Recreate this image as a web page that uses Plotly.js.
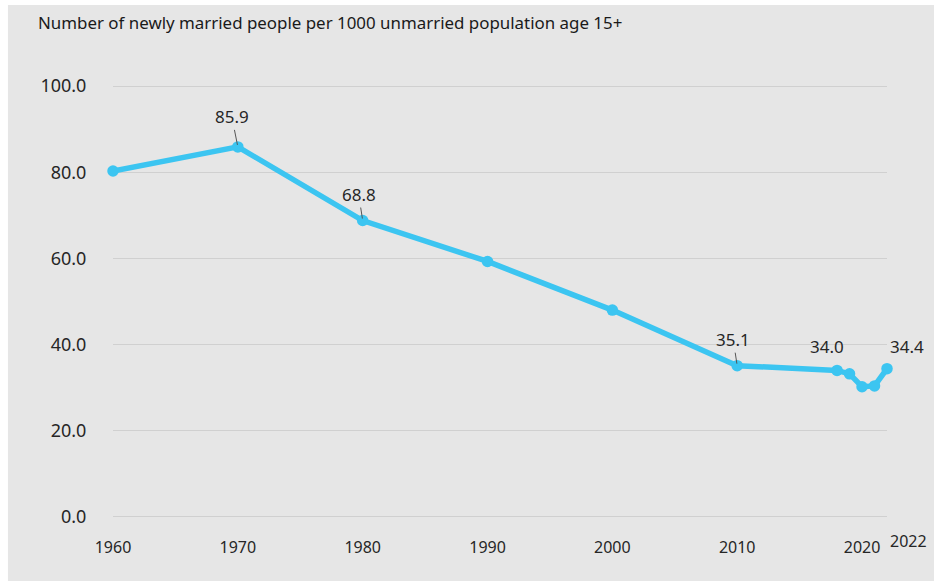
<!DOCTYPE html>
<html><head><meta charset="utf-8">
<script src="https://cdn.plot.ly/plotly-3.0.1.min.js"></script>
<style>html,body{margin:0;padding:0;background:#fff;}#chart{width:934px;height:581px;}</style>
</head><body><div id="chart"></div>
<script>
const years = [1960, 1970, 1980, 1990, 2000, 2010, 2018, 2019, 2020, 2021, 2022];
const rates = [80.3, 85.9, 68.8, 59.3, 48.0, 35.1, 34.0, 33.2, 30.2, 30.4, 34.4];
const tickYears = [1960, 1970, 1980, 1990, 2000, 2010, 2020];
const tickLabels = ['1960', '1970', '1980', '1990', '2000', '2010', '2020'];
const extraTickYear = 2022;
const extraTickLabel = '2022';
const labelled = [
  {year: 1970, value: 85.9, text: '85.9', ax: -6, ay: -30, arrow: true},
  {year: 1980, value: 68.8, text: '68.8', ax: -4, ay: -26, arrow: true},
  {year: 2010, value: 35.1, text: '35.1', ax: -4, ay: -26, arrow: true},
  {year: 2018, value: 34.0, text: '34.0', ax: -10, ay: -24, arrow: false},
  {year: 2022, value: 34.4, text: '34.4', ax: 20, ay: -22, arrow: false}
];
const titleText = 'Number of newly married people per 1000 unmarried population age 15+';

const trace = {
  x: years, y: rates, type: 'scatter', mode: 'lines+markers',
  line: {color: '#3CC5F1', width: 5.5},
  marker: {color: '#3CC5F1', size: 11.5},
  cliponaxis: false, hoverinfo: 'skip'
};

const annotations = labelled.map(d => ({
  x: d.year, y: d.value, xref: 'x', yref: 'y', text: d.text,
  showarrow: true, arrowhead: 0, arrowwidth: 1,
  arrowcolor: d.arrow ? '#555' : 'rgba(0,0,0,0)',
  ax: d.ax, ay: d.ay, standoff: 2,
  font: {family: 'Noto Sans', size: 17, color: '#262626'}
}));
annotations.push({
  x: extraTickYear, y: 0, xref: 'x', yref: 'y', text: extraTickLabel,
  showarrow: false, xshift: 21, yshift: -24,
  font: {family: 'Noto Sans', size: 16, color: '#262626'}
});
annotations.push({
  x: -0.1, y: 1.1425, xref: 'paper', yref: 'paper', xanchor: 'left', yanchor: 'middle',
  text: titleText, showarrow: false,
  font: {family: 'Noto Sans', size: 16.9, color: '#1a1a1a'}
});

const layout = {
  width: 934, height: 581,
  margin: {l: 113, r: 47, t: 84, b: 62},
  paper_bgcolor: '#ffffff', plot_bgcolor: 'rgba(0,0,0,0)',
  showlegend: false,
  shapes: [{type: 'rect', xref: 'paper', yref: 'paper', x0: -0.1357, x1: 1.07, y0: -0.16, y1: 1.1816,
    fillcolor: '#E6E6E6', line: {width: 0}, layer: 'below'}],
  xaxis: {
    range: [1960, 2022], tickvals: tickYears, ticktext: tickLabels, tickangle: 0,
    showgrid: false, zeroline: false, showline: false,
    ticks: 'outside', ticklen: 14, tickcolor: 'rgba(0,0,0,0)',
    tickfont: {family: 'Noto Sans', size: 16, color: '#262626'}
  },
  yaxis: {
    range: [-0.5, 100.5], tickvals: [0, 20, 40, 60, 80, 100], tickformat: '.1f',
    showgrid: true, gridcolor: '#D0D0D0', gridwidth: 1,
    zeroline: true, zerolinecolor: '#D0D0D0', zerolinewidth: 1, showline: false,
    ticks: 'outside', ticklen: 22, tickcolor: 'rgba(0,0,0,0)',
    tickfont: {family: 'Noto Sans', size: 18, color: '#262626'}
  },
  annotations: annotations
};
Plotly.newPlot('chart', [trace], layout, {displayModeBar: false, staticPlot: true});
</script></body></html>
